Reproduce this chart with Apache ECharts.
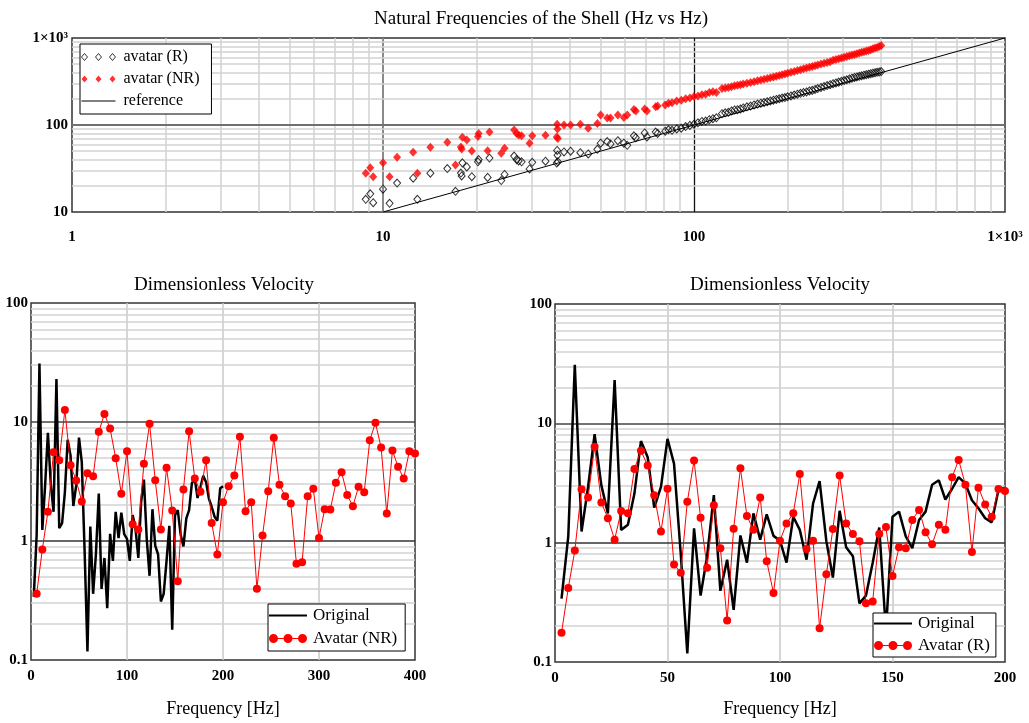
<!DOCTYPE html>
<html><head><meta charset="utf-8">
<script src="https://cdn.jsdelivr.net/npm/echarts@6/dist/echarts.min.js"></script>
<style>html,body{margin:0;padding:0;background:#fff}#c{width:1029px;height:723px}</style>
</head><body><div id="c"></div>
<script>
// ---------- Top chart: natural frequencies (x = reference Hz, y = avatar Hz)
const topFreq = [8.8, 9.1, 9.3, 10.0, 10.5, 11.1, 12.5, 12.9, 14.2, 16.1, 17.1, 17.8, 17.9, 18.0, 18.6, 19.3, 20.2, 20.3, 21.7, 22.0,
  24.0, 24.6, 26.4, 26.9, 27.3, 27.9, 29.6, 30.2, 33.3, 36.2, 36.3, 36.4, 36.5, 38.2, 40.1, 43.1, 45.7, 48.9, 50.1, 52.6,
  53.9, 56.9, 59.5, 61.0, 64.1, 65.0, 69.4, 70.6, 75.3, 76.4, 80.8, 82.8,
  85, 88, 91, 94, 97, 100, 103, 106, 109, 112, 115, 118, 123, 126, 129, 132, 135, 138, 141, 144,
  148, 152, 156, 160, 164, 168, 172, 176, 180, 184, 188, 192, 196, 200, 205, 210, 215, 220, 225, 230,
  235, 240, 245, 250, 256, 262, 268, 274, 280, 286, 292, 298, 304, 310, 316, 322, 328, 334, 340, 346,
  352, 358, 364, 370, 376, 382, 388, 394, 400];
const topAvatarR = [14, 16.2, 12.8, 18.3, 12.6, 21.5, 24.5, 14, 27.9, 31.6, 17.3, 28, 26, 36.7, 33, 25.5, 37.7, 40, 25, 41.7,
  23, 27, 44, 40, 38.6, 37.8, 31.3, 37.3, 38.4, 36.5, 51, 45, 37.8, 49, 50, 48, 46.5, 52.5, 61.7, 64.5,
  60.5, 66, 61.7, 58.5, 75, 71.5, 81, 73, 83, 80, 85, 88,
  87, 90, 92, 96, 99, 102, 106, 110, 111, 115, 118, 121, 135, 138, 140, 145, 149, 150, 153, 157,
  162, 165, 170, 174, 178, 181, 185, 189, 193, 197, 200, 204, 207, 211, 216, 221, 226, 231, 236, 240,
  246, 250, 256, 262, 270, 277, 284, 291, 298, 304, 311, 318, 324, 331, 338, 345, 352, 357, 363, 368,
  374, 379, 384, 389, 394, 399, 403, 407, 411];
const topAvatarNR = [27.9, 32.3, 25.5, 36.9, 25.5, 42.6, 48.6, 27.9, 55.5, 63.3, 34.7, 56, 53, 72.3, 67.3, 50.2, 74, 80, 50.7, 83.1,
  47.3, 54, 87.7, 80, 77, 75, 61.7, 75, 76.2, 73, 102, 90, 70, 100, 100, 102, 91.6, 104, 130, 120,
  120, 130, 122, 130, 151, 145, 153, 145, 162, 165, 170, 178,
  180, 189, 193, 200, 205, 212, 216, 222, 226, 236, 241, 236, 262, 266, 270, 276, 282, 287, 291, 296,
  301, 308, 315, 322, 330, 336, 343, 350, 357, 364, 370, 377, 385, 393, 403, 413, 422, 432, 442, 451,
  461, 470, 480, 489, 501, 512, 523, 535, 555, 567, 578, 590, 600, 612, 624, 636, 648, 660, 672, 684,
  696, 708, 720, 732, 750, 765, 780, 800, 818];
const refX = [10, 1000];
const refY = [10, 1000];

// ---------- Bottom charts: dimensionless velocity
const freqR = [2.9, 5.9, 8.8, 11.8, 14.7, 17.6, 20.6, 23.5, 26.5, 29.4, 32.4, 35.3, 38.2, 41.2, 44.1, 47.1, 50.0, 52.9, 55.9, 58.8,
  61.8, 64.7, 67.6, 70.6, 73.5, 76.5, 79.4, 82.4, 85.3, 88.2, 91.2, 94.1, 97.1, 100.0, 102.9, 105.9, 108.8, 111.8, 114.7, 117.6,
  120.6, 123.5, 126.5, 129.4, 132.4, 135.3, 138.2, 141.2, 144.1, 147.1, 150.0, 152.9, 155.9, 158.8, 161.8, 164.7, 167.6, 170.6, 173.5, 176.5,
  179.4, 182.4, 185.3, 188.2, 191.2, 194.1, 197.1, 200.0];
const freqNR = [5.9, 11.8, 17.6, 23.5, 29.4, 35.3, 41.2, 47.1, 52.9, 58.8, 64.7, 70.6, 76.5, 82.4, 88.2, 94.1, 100.0, 105.9, 111.8, 117.6,
  123.5, 129.4, 135.3, 141.2, 147.1, 152.9, 158.8, 164.7, 170.6, 176.5, 182.4, 188.2, 194.1, 200.0, 205.9, 211.8, 217.6, 223.5, 229.4, 235.3,
  241.2, 247.1, 252.9, 258.8, 264.7, 270.6, 276.5, 282.4, 288.2, 294.1, 300.0, 305.9, 311.8, 317.6, 323.5, 329.4, 335.3, 341.2, 347.1, 352.9,
  358.8, 364.7, 370.6, 376.5, 382.4, 388.2, 394.1, 400.0];
const original = [0.34, 1.13, 31, 1.24, 2.93, 8.1, 3.02, 1.76, 23, 1.28, 1.41, 2.58, 7.1, 5.2, 1.97, 2.93, 7.4, 4.6, 0.8, 0.118,
  1.32, 0.36, 0.77, 2.5, 0.395, 0.72, 0.273, 1.15, 0.68, 1.76, 1.06, 1.73, 1.14, 1.04, 0.68, 1.65, 1.28, 0.72, 2.13, 3.28,
  1.03, 0.51, 1.85, 0.914, 0.77, 0.31, 0.36, 0.68, 1.34, 0.18, 1.65, 1.82, 1.13, 0.90, 1.55, 1.82, 3.06, 3.33, 2.3, 2.83,
  3.54, 3.12, 2.27, 1.94, 1.6, 1.48, 2.78, 2.89];
const avatarR = [0.176, 0.416, 0.86, 2.8, 2.39, 6.37, 2.17, 1.6, 1.06, 1.84, 1.76, 4.15, 5.9, 4.43, 2.5, 1.24, 2.83, 0.657, 0.56, 2.2,
  4.87, 1.62, 0.617, 2.06, 0.90, 0.223, 1.31, 4.2, 1.67, 1.28, 2.39, 0.70, 0.378, 1.04, 1.45, 1.76, 3.77, 0.885, 1.04, 0.192,
  0.543, 1.30, 3.66, 1.45, 1.18, 1.03, 0.31, 0.322, 1.18, 1.35, 0.526, 0.914, 0.90, 1.55, 1.88, 1.22, 0.97, 1.41, 1.28, 3.54,
  4.93, 3.06, 0.836, 2.89, 2.09, 1.65, 2.82, 2.71];
const avatarNR = [0.36, 0.85, 1.76, 5.57, 4.77, 12.6, 4.33, 3.22, 2.15, 3.71, 3.5, 8.27, 11.7, 8.8, 4.97, 2.5, 5.68, 1.38, 1.25, 4.45,
  9.66, 3.24, 1.25, 4.12, 1.8, 0.46, 2.71, 8.37, 3.35, 2.59, 4.77, 1.42, 0.77, 2.12, 2.89, 3.55, 7.5, 1.78, 2.12, 0.397,
  1.11, 2.62, 7.37, 2.97, 2.38, 2.07, 0.643, 0.664, 2.38, 2.75, 1.06, 1.85, 1.84, 3.08, 3.79, 2.44, 1.96, 2.85, 2.57, 7.03,
  9.84, 6.1, 1.7, 5.76, 4.2, 3.35, 5.68, 5.43];

// ---------- labels / ticks
const topTitle = 'Natural Frequencies of the Shell (Hz vs Hz)';
const bottomTitle = 'Dimensionless Velocity';
const xName = 'Frequency [Hz]';

const FONT = "'Liberation Serif','Times New Roman',serif";
const zip = (xs, ys) => xs.map((x, i) => [x, ys[i]]);

// grid line helpers (decoration, not data)
const MINOR = '#d2d2d2';
function logMinor(decades) { const out = []; decades.forEach(d => { for (let k = 2; k <= 9; k++) out.push(+(k * d).toPrecision(3)); }); return out; }
function gridSeries(idx, vLines, hLines) {
  return {
    type: 'line', name: '_grid' + idx, xAxisIndex: idx, yAxisIndex: idx, data: [], silent: true, z: 1,
    markLine: {
      silent: true, z: 1, symbol: ['none', 'none'], label: { show: false }, animation: false,
      emphasis: { disabled: true },
      data: vLines.map(v => ({ xAxis: v[0], lineStyle: { color: v[1], width: v[2], type: 'solid' } }))
        .concat(hLines.map(h => ({ yAxis: h[0], lineStyle: { color: h[1], width: h[2], type: 'solid' } })))
    }
  };
}
const topV = logMinor([1, 10, 100]).map(v => [v, MINOR, 1.5]).concat([[10, '#8a8a8a', 2], [100, '#111', 1.3]]);
const topH = logMinor([10, 100]).map(v => [v, MINOR, 1.5]).concat([[100, '#707070', 2]]);
const botH = logMinor([0.1, 1, 10]).map(v => [v, MINOR, 1.5]).concat([[1, '#333', 1.5], [10, '#444', 1.5]]);
const leftV = [[100, '#c8c8c8', 1.5], [200, '#c8c8c8', 1.5], [300, '#c8c8c8', 1.5]];
const rightV = [[50, '#c8c8c8', 1.5], [100, '#c8c8c8', 1.5], [150, '#c8c8c8', 1.5]];

const tickLabel = { fontFamily: FONT, fontWeight: 'bold', fontSize: 15, color: '#000' };
const numFmt = v => { const n = +(+v).toPrecision(3); return n === 1000 ? '1×10³' : String(n); };

const diamonds3 = 'path://M0,3.5L3,0L6,3.5L3,7Z M14,3.5L17,0L20,3.5L17,7Z M28,3.5L31,0L34,3.5L31,7Z';
const thinLine = 'path://M0,0L0,0M0,3L34,3L34,4L0,4ZM34,7L34,7';
const thickLine = 'path://M0,0L0,0M0,3.4L38,3.4L38,5.6L0,5.6ZM38,9L38,9';
const dots3 = 'path://M0,4.5A4.5,4.5 0 1,1 9,4.5A4.5,4.5 0 1,1 0,4.5Z M14.5,4.5A4.5,4.5 0 1,1 23.5,4.5A4.5,4.5 0 1,1 14.5,4.5Z M29,4.5A4.5,4.5 0 1,1 38,4.5A4.5,4.5 0 1,1 29,4.5Z M4.5,4L33.5,4L33.5,5L4.5,5Z';

const legendBase = {
  orient: 'vertical', selectedMode: false, backgroundColor: '#fff', borderColor: '#000', borderWidth: 1,
  itemWidth: 40, z: 10, textStyle: { fontFamily: FONT, fontSize: 16, color: '#000', lineHeight: 16 }
};
const titleStyle = { fontFamily: FONT, fontSize: 19, fontWeight: 'normal', color: '#000' };

const chart = echarts.init(document.getElementById('c'), null, { renderer: 'canvas' });
chart.setOption({
  animation: false,
  backgroundColor: '#fff',
  title: [
    { text: topTitle, left: 541, top: 10, textAlign: 'center', padding: 0, textStyle: titleStyle },
    { text: bottomTitle, left: 224, top: 276, textAlign: 'center', padding: 0, textStyle: titleStyle },
    { text: bottomTitle, left: 780, top: 276, textAlign: 'center', padding: 0, textStyle: titleStyle }
  ],
  grid: [
    { left: 72, top: 38, width: 933, height: 174, show: true, borderColor: '#333', borderWidth: 1.5, backgroundColor: 'rgba(0,0,0,0)' },
    { left: 31, top: 303, width: 384, height: 357, show: true, borderColor: '#333', borderWidth: 1.5, backgroundColor: 'rgba(0,0,0,0)' },
    { left: 555, top: 304, width: 450, height: 364, show: true, borderColor: '#333', borderWidth: 1.5, backgroundColor: 'rgba(0,0,0,0)' }
  ],
  xAxis: [
    { gridIndex: 0, type: 'log', logBase: 10, min: 1, max: 1000, axisLine: { show: false }, axisTick: { show: false },
      splitLine: { show: false }, minorTick: { show: false }, axisLabel: Object.assign({ margin: 18, formatter: numFmt }, tickLabel) },
    { gridIndex: 1, type: 'value', min: 0, max: 400, interval: 100, axisLine: { show: false }, axisTick: { show: false },
      splitLine: { show: false }, axisLabel: Object.assign({ margin: 9 }, tickLabel),
      name: xName, nameLocation: 'middle', nameGap: 40, nameTextStyle: { fontFamily: FONT, fontSize: 18, color: '#000' } },
    { gridIndex: 2, type: 'value', min: 0, max: 200, interval: 50, axisLine: { show: false }, axisTick: { show: false },
      splitLine: { show: false }, axisLabel: Object.assign({ margin: 9 }, tickLabel),
      name: xName, nameLocation: 'middle', nameGap: 38, nameTextStyle: { fontFamily: FONT, fontSize: 18, color: '#000' } }
  ],
  yAxis: [
    { gridIndex: 0, type: 'log', logBase: 10, min: 10, max: 1000, axisLine: { show: false }, axisTick: { show: false },
      splitLine: { show: false }, axisLabel: Object.assign({ margin: 4, formatter: numFmt }, tickLabel) },
    { gridIndex: 1, type: 'log', logBase: 10, min: 0.1, max: 100, axisLine: { show: false }, axisTick: { show: false },
      splitLine: { show: false }, axisLabel: Object.assign({ margin: 3, formatter: numFmt }, tickLabel) },
    { gridIndex: 2, type: 'log', logBase: 10, min: 0.1, max: 100, axisLine: { show: false }, axisTick: { show: false },
      splitLine: { show: false }, axisLabel: Object.assign({ margin: 3, formatter: numFmt }, tickLabel) }
  ],
  legend: [
    Object.assign({}, legendBase, {
      left: 80, top: 44, padding: [5, 12, 5, 1], itemGap: 6, itemHeight: 7,
      data: [
        { name: 'avatar (R)', icon: diamonds3, itemStyle: { color: '#fff', borderColor: '#000', borderWidth: 1 } },
        { name: 'avatar (NR)', icon: diamonds3, itemStyle: { color: '#ff0000', borderWidth: 0 } },
        { name: 'reference', icon: thinLine, itemStyle: { color: '#000', borderWidth: 0 } }
      ]
    }),
    Object.assign({}, legendBase, {
      left: 268, top: 604, padding: [3, 8, 4, 1], itemGap: 6, itemHeight: 9,
      textStyle: { fontFamily: FONT, fontSize: 17, color: '#000', lineHeight: 17 },
      data: [
        { name: 'Original', icon: thickLine, itemStyle: { color: '#000', borderWidth: 0 } },
        { name: 'Avatar (NR)', icon: dots3, itemStyle: { color: '#ff0000', borderWidth: 0 } }
      ]
    }),
    Object.assign({}, legendBase, {
      left: 873, top: 613, padding: [2, 6, 3, 1], itemGap: 5, itemHeight: 9,
      textStyle: { fontFamily: FONT, fontSize: 17, color: '#000', lineHeight: 17 },
      data: [
        { name: 'Original', icon: thickLine, itemStyle: { color: '#000', borderWidth: 0 } },
        { name: 'Avatar (R)', icon: dots3, itemStyle: { color: '#ff0000', borderWidth: 0 } }
      ]
    })
  ],
  series: [
    gridSeries(0, topV, topH),
    gridSeries(1, leftV, botH),
    gridSeries(2, rightV, botH),
    { name: 'reference', type: 'line', xAxisIndex: 0, yAxisIndex: 0, data: zip(refX, refY), symbol: 'none',
      lineStyle: { color: '#000', width: 1 }, z: 3, silent: true },
    { name: 'avatar (R)', type: 'scatter', xAxisIndex: 0, yAxisIndex: 0, data: zip(topFreq, topAvatarR),
      symbol: 'diamond', symbolSize: [7, 8], itemStyle: { color: 'rgba(255,255,255,0)', borderColor: '#000', borderWidth: 1 }, z: 4 },
    { name: 'avatar (NR)', type: 'scatter', xAxisIndex: 0, yAxisIndex: 0, data: zip(topFreq, topAvatarNR),
      symbol: 'diamond', symbolSize: [8, 9], itemStyle: { color: '#ff0000' }, z: 4 },
    { name: 'Original', type: 'line', xAxisIndex: 1, yAxisIndex: 1, data: zip(freqR, original), symbol: 'none',
      lineStyle: { color: '#000', width: 2.5 }, itemStyle: { color: '#000' }, z: 3 },
    { name: 'Avatar (NR)', type: 'line', xAxisIndex: 1, yAxisIndex: 1, data: zip(freqNR, avatarNR), symbol: 'circle', symbolSize: 8,
      showSymbol: true, lineStyle: { color: '#ff0000', width: 1 }, itemStyle: { color: '#ff0000' }, z: 4 },
    { name: 'Original', type: 'line', xAxisIndex: 2, yAxisIndex: 2, data: zip(freqR, original), symbol: 'none',
      lineStyle: { color: '#000', width: 2.5 }, itemStyle: { color: '#000' }, z: 3 },
    { name: 'Avatar (R)', type: 'line', xAxisIndex: 2, yAxisIndex: 2, data: zip(freqR, avatarR), symbol: 'circle', symbolSize: 8,
      showSymbol: true, lineStyle: { color: '#ff0000', width: 1 }, itemStyle: { color: '#ff0000' }, z: 4 }
  ]
});
</script>
</body></html>
